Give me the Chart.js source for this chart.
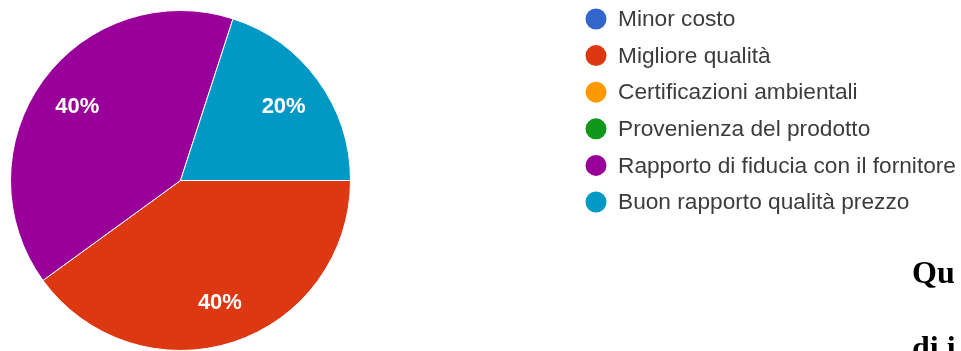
<!DOCTYPE html>
<html>
<head>
<meta charset="utf-8">
<script src="https://cdn.jsdelivr.net/npm/chart.js@4.4.1/dist/chart.umd.min.js"></script>
<style>
  html, body { margin: 0; padding: 0; background: #fff; overflow: hidden; }
  #wrap { position: relative; width: 961px; height: 351px; }
  #chart { position: absolute; left: 0; top: 0; }
  .doc { position: absolute; left: 912px; font-family: "Liberation Serif", "DejaVu Serif", serif;
         font-weight: bold; font-size: 32px; color: #000; white-space: nowrap; line-height: 1; }
</style>
</head>
<body>
<div id="wrap">
  <canvas id="chart" width="961" height="351"></canvas>
  <div class="doc" style="top:256px;">Qu</div>
  <div class="doc" style="top:331px;">di i</div>
</div>
<script>
// Survey answers and their share of responses (%)
const categories = [
  'Minor costo',
  'Migliore qualità',
  'Certificazioni ambientali',
  'Provenienza del prodotto',
  'Rapporto di fiducia con il fornitore',
  'Buon rapporto qualità prezzo'
];
const shares = [0, 40, 0, 0, 40, 20];
const sliceColors = ['#3366CC', '#DC3912', '#FF9900', '#109618', '#990099', '#0099C6'];

// Percentage labels inside each non-empty slice
const sliceLabels = {
  id: 'sliceLabels',
  afterDatasetsDraw(chart) {
    const { ctx } = chart;
    const meta = chart.getDatasetMeta(0);
    const total = shares.reduce((a, b) => a + b, 0);
    ctx.save();
    ctx.fillStyle = '#ffffff';
    ctx.font = 'bold 22px "Liberation Sans", Arial, sans-serif';
    ctx.textAlign = 'center';
    ctx.textBaseline = 'middle';
    meta.data.forEach((arc, i) => {
      if (!shares[i]) return;
      const { x, y, startAngle, endAngle, outerRadius } = arc.getProps(['x', 'y', 'startAngle', 'endAngle', 'outerRadius'], true);
      const mid = (startAngle + endAngle) / 2;
      const r = outerRadius * 0.75;
      const pct = Math.round(shares[i] / total * 100) + '%';
      ctx.fillText(pct, x + Math.cos(mid) * r, y + Math.sin(mid) * r + 1);
    });
    ctx.restore();
  }
};

// Legend column to the right of the pie
const sideLegend = {
  id: 'sideLegend',
  afterDraw(chart) {
    const { ctx } = chart;
    const x0 = 596, y0 = 19, step = 36.6;
    ctx.save();
    ctx.font = '22.7px "Liberation Sans", Arial, sans-serif';
    ctx.textBaseline = 'middle';
    ctx.textAlign = 'left';
    categories.forEach((label, i) => {
      const y = y0 + i * step;
      ctx.beginPath();
      ctx.arc(x0, y, 10.5, 0, Math.PI * 2);
      ctx.fillStyle = sliceColors[i];
      ctx.fill();
      ctx.fillStyle = '#3c3c3c';
      ctx.fillText(label, 618, y + 1);
    });
    ctx.restore();
  }
};

new Chart(document.getElementById('chart'), {
  type: 'pie',
  data: {
    labels: categories,
    datasets: [{
      data: shares,
      backgroundColor: sliceColors,
      borderColor: '#ffffff',
      borderWidth: 1
    }]
  },
  options: {
    responsive: false,
    animation: false,
    rotation: 90,
    layout: { padding: { left: 10, top: 10, right: 610, bottom: 0 } },
    plugins: {
      legend: { display: false },
      tooltip: { enabled: false }
    }
  },
  plugins: [sliceLabels, sideLegend]
});
</script>
</body>
</html>
